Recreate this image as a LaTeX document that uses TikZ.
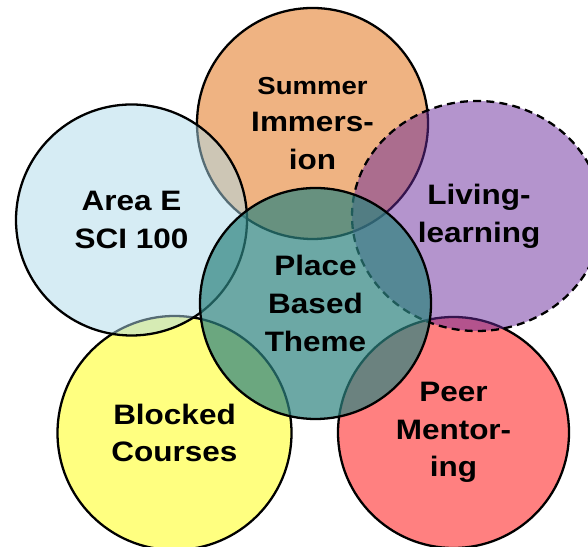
\documentclass[tikz,border=0pt]{standalone}
\usepackage{fontspec}
\setmainfont{Liberation Sans}
\newfontfamily\titrefont[FakeStretch=1.12]{Liberation Sans}
\usetikzlibrary{calc}

\definecolor{orangeSI}{RGB}{223,103,5}
\definecolor{bleuAE}{RGB}{173,217,233}
\definecolor{violetLL}{RGB}{105,41,155}
\definecolor{jauneBC}{RGB}{255,255,1}
\definecolor{rougePM}{RGB}{255,1,1}
\definecolor{tealPB}{RGB}{45,131,127}

\tikzset{rond/.style={draw=black,line width=1.3pt,fill opacity=0.5},
 titre/.style={font=\titrefont\bfseries\fontsize{16}{21.4}\selectfont,align=center}}

\begin{document}
\begin{tikzpicture}
\useasboundingbox (0,0) rectangle (11.76,10.92);
%cercle 1 (haut)
 \draw[rond,fill=orangeSI] (6.25,8.45) circle (2.31);
%cercle 2 (bas gauche)
 \draw[rond,fill=jauneBC] (3.49,2.26) circle (2.34);
%cercle 3 (bas droite)
 \draw[rond,fill=rougePM] (9.07,2.27) circle (2.31);
%cercle 4 (gauche)
 \draw[rond,fill=bleuAE] (2.63,6.52) circle (2.31);
%cercle 5 (droite, pointillé)
 \draw[rond,fill=violetLL,dash pattern=on 4.5pt off 3pt] (9.54,6.60) ellipse (2.50 and 2.30);
%cercle central
 \draw[rond,fill=tealPB,fill opacity=0.7] (6.31,4.85) circle (2.31);
%textes
 \node[titre] (summer) at (6.25,8.45) {{\fontsize{14}{21.4}\selectfont Summer}\\Immers-\\ion};
 \node[titre] (areae) at (2.63,6.52) {Area E\\SCI 100};
 \node[titre] (living) at (9.58,6.60) {Living-\\learning};
 \node[titre] (theme) at (6.31,4.85) {Place\\Based\\Theme};
 \node[titre] (blocked) at (3.49,2.26) {Blocked\\Courses};
 \node[titre] (peer) at (9.07,2.27) {Peer\\Mentor-\\ing};
\end{tikzpicture}
\end{document}
